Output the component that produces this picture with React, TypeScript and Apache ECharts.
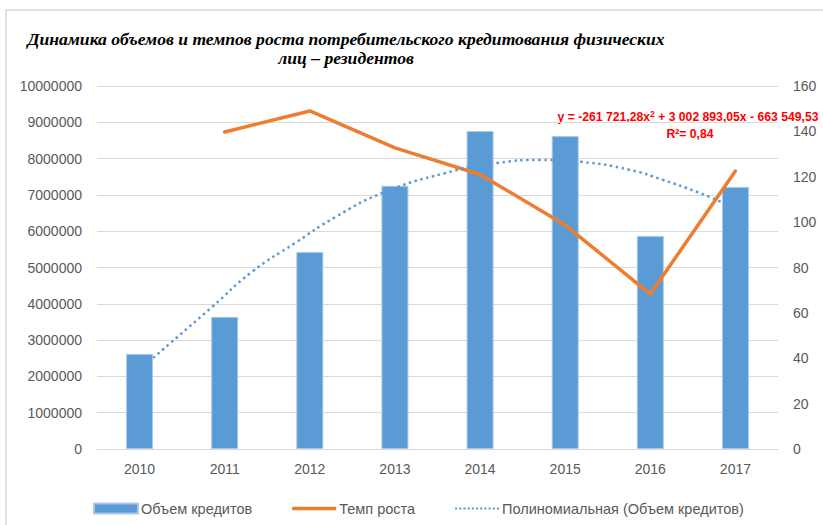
import React, { useEffect, useRef } from "react";
import * as echarts from "echarts";

const years = ["2010", "2011", "2012", "2013", "2014", "2015", "2016", "2017"];
const creditVolume = [2620000, 3640000, 5430000, 7250000, 8760000, 8620000, 5870000, 7220000];
const growthRate = [null, 139.7, 149, 132.7, 121, 98.7, 68.3, 122.5];
// trend line points: [position along x (0..8 band units), value]
const trendX = [0.66, 1.35, 1.82, 2.33, 2.8, 3.35, 4.09, 4.7, 5.21, 5.68, 6.26, 6.65, 7.05, 7.36];
const trendY = [2510000, 3910000, 4880000, 5680000, 6390000, 7050000, 7600000, 7880000, 7960000, 7910000, 7690000, 7410000, 7080000, 6780000];

const titleLines = [
  "Динамика объемов и темпов роста потребительского кредитования физических",
  "лиц – резидентов",
];
const seriesNames = ["Объем кредитов", "Темп роста", "Полиномиальная (Объем кредитов)"];

const dotIcon = (() => {
  let d = "path://";
  for (let i = 0; i < 11; i++) d += `M${i * 4},0h2v2h-2z`;
  return d;
})();

export default function App() {
  const ref = useRef<HTMLDivElement>(null);
  useEffect(() => {
    if (!ref.current) return;
    const chart = echarts.init(ref.current, null, { renderer: "svg" });
    const gray = "#595959";
    const font = "'Liberation Sans', Arial, sans-serif";
    const serif = "'Liberation Serif', 'Times New Roman', serif";
    chart.setOption({
      animation: false,
      textStyle: { fontFamily: font },
      grid: { left: 97, right: 45, top: 86, bottom: 76 },
      graphic: [
        {
          type: "rect",
          shape: { x: 6, y: 10, width: 840, height: 540 },
          style: { fill: "none", stroke: "#e3e3e3", lineWidth: 2 },
          silent: true,
        },
        {
          type: "text",
          x: 346,
          y: 39,
          style: {
            text: titleLines[0],
            fontFamily: serif,
            fontStyle: "italic",
            fontWeight: "bold",
            fontSize: 17.6,
            fill: "#000",
            align: "center",
            verticalAlign: "middle",
          },
        },
        {
          type: "text",
          x: 346,
          y: 58,
          style: {
            text: titleLines[1],
            fontFamily: serif,
            fontStyle: "italic",
            fontWeight: "bold",
            fontSize: 17.6,
            fill: "#000",
            align: "center",
            verticalAlign: "middle",
          },
        },
        {
          type: "text",
          x: 688,
          y: 117,
          style: {
            text: "{a|y = -261 721,28x}{s|2}{a| + 3 002 893,05x - 663 549,53}",
            align: "center",
            verticalAlign: "middle",
            rich: {
              a: { fontFamily: font, fontWeight: "bold", fontSize: 12.2, fill: "#ff0000", color: "#ff0000" },
              s: { fontFamily: font, fontWeight: "bold", fontSize: 8.5, fill: "#ff0000", color: "#ff0000", verticalAlign: "top", padding: [0, 0, 6, 0] },
            },
          },
        },
        {
          type: "text",
          x: 690,
          y: 134,
          style: {
            text: "R²= 0,84",
            fontFamily: font,
            fontWeight: "bold",
            fontSize: 12.2,
            fill: "#ff0000",
            align: "center",
            verticalAlign: "middle",
          },
        },
      ],
      legend: {
        left: 88,
        top: 496,
        itemWidth: 44,
        itemHeight: 10,
        itemGap: 40,
        textStyle: { color: gray, fontSize: 14.5, fontFamily: font, padding: [0, 0, 0, -2] },
        data: [
          { name: seriesNames[0], icon: "rect" },
          { name: seriesNames[1], icon: "path://M0,0h44v3.5h-44z" },
          { name: seriesNames[2], icon: dotIcon },
        ],
      },
      xAxis: [
        {
          type: "category",
          data: years,
          axisLine: { lineStyle: { color: "#d9d9d9", width: 1 } },
          axisTick: { show: false },
          axisLabel: { color: gray, fontSize: 14, margin: 13, fontFamily: font },
        },
        {
          type: "value",
          min: 0,
          max: 8,
          show: false,
        },
      ],
      yAxis: [
        {
          type: "value",
          min: 0,
          max: 10000000,
          interval: 1000000,
          axisLine: { show: false },
          axisTick: { show: false },
          axisLabel: { color: gray, fontSize: 14, margin: 15, fontFamily: font, formatter: (v: number) => String(v) },
          splitLine: { lineStyle: { color: "#d9d9d9", width: 1 } },
        },
        {
          type: "value",
          min: 0,
          max: 160,
          interval: 20,
          axisLine: { show: false },
          axisTick: { show: false },
          axisLabel: { color: gray, fontSize: 14, margin: 15, fontFamily: font },
          splitLine: { show: false },
        },
      ],
      series: [
        {
          name: seriesNames[0],
          type: "bar",
          data: creditVolume,
          barWidth: 27,
          itemStyle: { color: "#5b9bd5", borderColor: "#a9c8ea", borderWidth: 1 },
        },
        {
          name: seriesNames[1],
          type: "line",
          yAxisIndex: 1,
          data: growthRate,
          symbol: "none",
          lineStyle: { color: "#ed7d31", width: 3.5, cap: "round", join: "round" },
          itemStyle: { color: "#ed7d31" },
        },
        {
          name: seriesNames[2],
          type: "line",
          xAxisIndex: 1,
          yAxisIndex: 0,
          data: trendX.map((x, i) => [x, trendY[i]]),
          smooth: true,
          symbol: "none",
          lineStyle: { color: "#5b9bd5", width: 2.5, type: [2.5, 3.5], cap: "butt" },
          itemStyle: { color: "#5b9bd5" },
        },
      ],
    });
    return () => chart.dispose();
  }, []);
  return (
    <div
      ref={ref}
      style={{ position: "fixed", left: 0, top: 0, width: 823, height: 525, background: "#fff" }}
    />
  );
}
